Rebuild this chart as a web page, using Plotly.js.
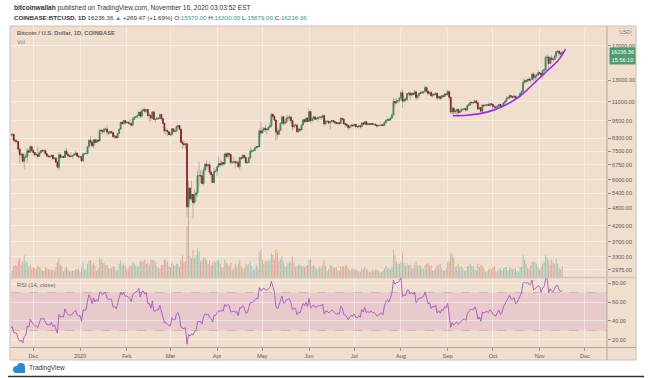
<!DOCTYPE html>
<html><head><meta charset="utf-8">
<script src="https://cdn.plot.ly/plotly-3.0.1.min.js"></script>
<style>html,body{margin:0;padding:0;background:#fff;}#chart{width:652px;height:378px;}</style>
</head><body><div id="chart"></div>
<script>
// Daily candles, COINBASE BTCUSD, from 2019-11-01 to 2020-11-16 (one entry per day)
const startDay = [2019, 10, 1];
const opens = [
9150,9260,9310,9200,9410,9310,9350,9200,8770,8810,9040,8720,8800,8760,8640,8460,8500,8550,8170,8120,8080,7620,7290,7330,6930,7150,7180,7520,7440,7760,
7550,7420,7310,7300,7200,7400,7540,7510,7530,7350,7220,7200,7190,7260,7070,7110,6880,6620,7290,7150,7190,7140,7510,7320,7250,7200,7200,7250,7320,7390,7220,
7170,7180,6950,7340,7350,7360,7760,8160,8040,7820,8190,8020,8180,8110,8820,8810,8720,8900,8910,8700,8630,8730,8660,8390,8430,8330,8600,8900,9390,9290,9510,
9350,9380,9340,9290,9180,9620,9760,9800,9900,10160,9850,10270,10360,10240,10370,9900,9930,9700,10180,9600,9610,9690,9670,9970,9660,9310,8790,8810,8710,
8530,8530,8920,8760,8760,9070,9150,8900,8040,7940,7890,7940,4860,5620,5170,5360,5030,5330,5420,6190,6200,6190,5830,6480,6770,6680,6740,6370,6250,5880,6400,
6420,6640,6810,6740,6870,6780,7340,7200,7370,7300,6870,6890,6910,6860,6880,6640,7120,7100,7260,7140,6850,6860,7130,7490,7510,7540,7700,7770,7760,8780,
8630,8830,8970,8900,8880,9030,9150,9990,9810,9540,8720,8560,8820,9310,9790,9320,9380,9670,9730,9780,9510,9060,9170,9180,8720,8900,8840,9200,9570,9430,9700,
9450,10200,9520,9670,9790,9620,9670,9750,9780,9770,9880,9270,9470,9470,9340,9430,9520,9460,9390,9300,9360,9290,9680,9620,9290,9250,9160,9010,9120,9190,
9140,9230,9090,9060,9130,9070,9340,9250,9430,9230,9280,9230,9300,9240,9250,9190,9130,9150,9170,9210,9160,9390,9530,9610,9550,9710,9940,11030,10910,11100,11110,
11350,11810,11070,11230,11190,11740,11770,11600,11760,11680,11890,11390,11570,11780,11770,11860,11910,12300,11970,11740,11860,11520,11680,11650,11770,11340,11470,11330,11540,11480,11710,
11660,11920,11400,10170,10470,10170,10260,10380,10130,10230,10350,10400,10440,10330,10680,10790,10950,10940,10940,11090,10920,10420,10530,10240,10740,10690,10720,10770,10700,10840,
10780,10620,10570,10550,10670,10790,10600,10670,10920,11060,11300,11380,11550,11430,11430,11500,11320,11370,11510,11750,11920,12820,12980,12930,13120,13040,13070,13650,13280,13460,13560,
13800,13760,13560,14030,14150,15590,15590,14840,15490,15330,15310,15700,16290,16330,16070,15970];
const highs = [
9270,9380,9370,9580,9470,9440,9380,9230,8880,9120,9080,8890,8820,8800,8770,8530,8650,8560,8180,8230,8120,7720,7370,7350,7370,7340,7660,7630,7870,7820,
7570,7430,7420,7760,7490,7560,7630,7570,7640,7400,7280,7250,7300,7280,7160,7140,6940,7440,7380,7220,7190,7520,7700,7440,7270,7440,7270,7380,7530,7410,7310,
7250,7210,7410,7390,7500,7800,8210,8460,8050,8200,8290,8190,8200,8880,8900,8850,9000,9000,9190,8720,8770,8800,8670,8520,8450,8610,8980,9400,9440,9570,9530,
9460,9480,9620,9330,9760,9830,9880,9950,10180,10190,10320,10460,10520,10400,10400,10060,9980,10250,10200,9650,9780,9700,10020,10000,9680,9330,8990,8900,8780,
8750,8940,8930,8850,9160,9180,9190,8900,8180,8150,7990,7960,5960,5670,5950,5370,5560,5450,6420,6900,6460,6420,6610,6840,6980,6780,6880,6370,6260,6600,6530,
6690,7200,7040,6950,6880,7370,7470,7430,7370,7300,6950,7190,6910,6990,6930,7190,7160,7310,7260,7210,6950,7150,7760,7620,7610,7710,7790,7800,8960,9460,
9060,9020,9190,8960,9100,9380,10060,10000,9920,9580,9000,8970,9400,9930,9850,9600,9880,9950,9900,9840,9560,9270,9310,9300,8970,9010,9230,9600,9610,9740,9700,
10430,10230,9690,9880,9860,9740,9800,9800,9880,9990,9950,9580,9490,9480,9500,9580,9550,9480,9400,9400,9440,9780,9690,9670,9330,9300,9200,9190,9230,9200,
9300,9270,9120,9190,9130,9360,9370,9460,9440,9300,9290,9340,9340,9280,9270,9220,9190,9200,9240,9220,9420,9540,9650,9640,9730,10080,11400,11240,11350,11180,11450,
12000,12120,11490,11420,11790,11900,11930,11800,11810,12080,12060,11620,11800,12000,11990,11940,12480,12400,12010,11880,11880,11690,11720,11820,11770,11540,11580,11560,11580,11720,11780,
12090,11950,11470,10630,10570,10350,10400,10440,10350,10510,10420,10480,10450,10780,10940,11100,11040,11050,11180,11090,10990,10580,10540,10780,10770,10790,10800,10960,10860,10850,
10930,10640,10600,10690,10800,10800,10690,10960,11110,11500,11440,11720,11560,11560,11640,11540,11400,11520,11820,12030,13200,13190,13030,13170,13340,13250,13790,13860,13640,13680,14100,
13900,13830,14070,14250,15750,15980,15770,15660,15850,15470,15980,16350,16490,16350,16140,16300];
const lows = [
9070,9200,9110,9090,9180,9260,9080,8690,8740,8780,8630,8640,8680,8570,8370,8430,8420,8070,7960,8030,7460,6800,7100,6880,6520,7080,6860,7380,7410,7450,
7230,7170,7230,7080,7170,7360,7480,7410,7300,7150,7150,7080,7180,7030,7020,6840,6570,6430,7060,7110,7110,7130,7270,7160,7130,7170,7070,7240,7290,7170,7130,
7150,6910,6870,7270,7320,7350,7720,7880,7760,7670,7990,8000,8060,8100,8570,8600,8680,8800,8470,8520,8570,8610,8300,8230,8260,8290,8580,8880,9250,9210,9220,
9320,9210,9230,9080,9160,9540,9720,9680,9880,9710,9730,10240,10080,10130,9760,9470,9450,9610,9560,9400,9570,9580,9660,9500,9260,8600,8520,8440,8510,
8410,8510,8660,8670,8750,9000,8860,8000,7630,7730,7600,4500,3860,5090,5100,4450,4950,5070,5260,5700,5850,5790,5730,6400,6480,6550,6260,5880,5870,5860,6340,
6160,6590,6640,6680,6670,6770,7100,7150,7130,6760,6780,6810,6560,6780,6620,6470,7010,7080,7060,6830,6800,6840,7030,7400,7450,7500,7630,7680,7740,8400,
8620,8760,8700,8560,8780,8940,9020,9710,9500,8130,8230,8540,8790,9280,9140,9230,9320,9480,9480,9300,8820,8950,9100,8700,8630,8720,8820,9110,9340,9340,9400,
9420,9280,9380,9460,9580,9530,9400,9650,9570,9700,9100,9230,9350,9250,8900,9380,9260,9300,9220,9190,9260,9280,9560,9200,9000,9040,8830,8940,9020,9080,
9090,8940,9040,9050,8930,9060,9210,9240,9170,9120,9200,9160,9200,9120,9150,9010,9090,9120,9110,9130,9150,9280,9460,9470,9540,9650,9920,10560,10840,10850,10980,
11220,10500,10930,11000,11090,11560,11150,11530,11570,11680,11150,11160,11300,11690,11700,11690,11820,11820,11580,11670,11500,11380,11520,11590,11150,11260,11150,11300,11420,11450,11540,
11530,11170,10020,9900,9880,10000,9880,9860,10100,10210,10200,10360,10210,10260,10640,10670,10740,10820,10890,10790,10300,10350,10140,10200,10560,10650,10620,10660,10650,10680,
10440,10380,10500,10520,10620,10530,10570,10540,10840,11050,11260,11230,11300,11290,11270,11220,11290,11360,11410,11690,11900,12700,12730,12910,12910,12800,13060,12930,12980,13130,13430,
13620,13210,13300,13520,14090,15200,14340,14720,14810,15090,15290,15440,15960,15710,15790,15879];
const closes = [
9260,9310,9200,9410,9310,9350,9200,8770,8810,9040,8720,8800,8760,8640,8460,8500,8550,8170,8120,8080,7620,7290,7330,6930,7150,7180,7520,7440,7760,7550,
7420,7310,7300,7200,7400,7540,7510,7530,7350,7220,7200,7190,7260,7070,7110,6880,6620,7290,7150,7190,7140,7510,7320,7250,7200,7200,7250,7320,7390,7220,7170,
7180,6950,7340,7350,7360,7760,8160,8040,7820,8190,8020,8180,8110,8820,8810,8720,8900,8910,8700,8630,8730,8660,8390,8430,8330,8600,8900,9390,9290,9510,9350,
9380,9340,9290,9180,9620,9760,9800,9900,10160,9850,10270,10360,10240,10370,9900,9930,9700,10180,9600,9610,9690,9670,9970,9660,9310,8790,8810,8710,8530,
8530,8920,8760,8760,9070,9150,8900,8040,7940,7890,7940,4860,5620,5170,5360,5030,5330,5420,6190,6200,6190,5830,6480,6770,6680,6740,6370,6250,5880,6400,6420,
6640,6810,6740,6870,6780,7340,7200,7370,7300,6870,6890,6910,6860,6880,6640,7120,7100,7260,7140,6850,6860,7130,7490,7510,7540,7700,7770,7760,8780,8630,
8830,8970,8900,8880,9030,9150,9990,9810,9540,8720,8560,8820,9310,9790,9320,9380,9670,9730,9780,9510,9060,9170,9180,8720,8900,8840,9200,9570,9430,9700,9450,
10200,9520,9670,9790,9620,9670,9750,9780,9770,9880,9270,9470,9470,9340,9430,9520,9460,9390,9300,9360,9290,9680,9620,9290,9250,9160,9010,9120,9190,9140,
9230,9090,9060,9130,9070,9340,9250,9430,9230,9280,9230,9300,9240,9250,9190,9130,9150,9170,9210,9160,9390,9530,9610,9550,9710,9940,11030,10910,11100,11110,11350,
11810,11070,11230,11190,11740,11770,11600,11760,11680,11890,11390,11570,11780,11770,11860,11910,12300,11970,11740,11860,11520,11680,11650,11770,11340,11470,11330,11540,11480,11710,11660,
11920,11400,10170,10470,10170,10260,10380,10130,10230,10350,10400,10440,10330,10680,10790,10950,10940,10940,11090,10920,10420,10530,10240,10740,10690,10720,10770,10700,10840,10780,
10620,10570,10550,10670,10790,10600,10670,10920,11060,11300,11380,11550,11430,11430,11500,11320,11370,11510,11750,11920,12820,12980,12930,13120,13040,13070,13650,13280,13460,13560,13800,
13760,13560,14030,14150,15590,15590,14840,15490,15330,15310,15700,16290,16330,16070,15970,16236.36];
// daily volume, thousand BTC
const volumes = [
9,8,7,9,10,9,10,14,8,8,10,9,9,9,10,6,6,10,11,10,15,17,11,14,20,14,13,9,11,8,
9,8,8,10,9,8,6,6,9,8,7,7,6,7,6,9,13,17,11,9,5,8,9,7,5,6,6,6,7,7,7,
5,9,13,7,7,12,15,15,11,13,10,6,8,17,16,13,13,11,11,8,8,8,10,9,6,7,12,15,11,12,10,
7,8,10,10,13,12,10,9,10,14,14,14,16,12,13,11,16,15,16,13,10,8,8,11,11,16,16,14,10,
9,13,11,10,12,12,9,15,20,14,14,46,40,19,17,24,17,20,26,23,14,15,18,17,15,12,15,11,13,15,13,
15,16,12,9,9,16,13,12,10,13,7,8,12,9,12,16,10,8,8,12,11,12,14,10,7,8,11,8,23,25,
16,12,14,15,14,16,22,20,16,25,22,14,16,19,14,9,10,13,14,13,18,13,9,10,11,11,10,10,9,10,11,
16,16,10,11,9,7,8,10,8,11,15,10,6,7,11,10,9,8,9,6,6,10,9,10,10,11,8,6,7,8,
7,7,6,5,5,8,7,9,7,7,4,5,7,6,7,7,6,4,4,6,8,10,8,8,7,9,25,20,14,12,12,
14,22,13,10,13,11,11,8,8,11,14,10,11,10,8,7,11,12,13,10,11,6,6,8,11,10,12,8,6,6,8,
14,14,22,20,18,9,10,12,9,10,8,6,6,10,10,12,10,10,7,6,12,9,11,10,8,5,5,7,8,7,
9,10,5,5,7,8,6,8,9,9,6,9,8,7,7,8,5,4,9,9,20,16,12,8,8,11,14,14,13,12,9,
7,9,12,14,20,18,15,11,16,13,12,17,12,8,7,10];

const priceTicks = [2975,3300,3700,4200,4800,5400,6000,6750,7500,8300,9500,11000,13000,17000];
const priceTickText = ['2975.00','3300.00','3700.00','4200.00','4800.00','5400.00','6000.00','6750.00','7500.00','8300.00','9500.00','11000.00','13000.00','17000.00'];
const rsiTicks = [20,40,60,80];
const rsiTickText = ['20.00','40.00','60.00','80.00'];
const monthTicks = ['2019-12-01','2020-01-01','2020-02-01','2020-03-01','2020-04-01','2020-05-01','2020-06-01','2020-07-01','2020-08-01','2020-09-01','2020-10-01','2020-11-01','2020-12-01'];
const monthLabels = ['Dec','2020','Feb','Mar','Apr','May','Jun','Jul','Aug','Sep','Oct','Nov','Dec'];
// hand-drawn purple arc (drawing on the chart)
const curveDates = ['2020-09-04 12:00','2020-09-13 14:00','2020-09-22 10:00','2020-10-01 08:00','2020-10-10 02:00','2020-10-19','2020-10-27 18:00','2020-11-04 16:00','2020-11-13 12:00','2020-11-18 05:00'];
const curvePrices = [9880,9920,10040,10320,10780,11500,12650,13800,15250,16600];

// ---------- derived for drawing ----------
const dates = closes.map((_, i) => {
  const d = new Date(Date.UTC(startDay[0], startDay[1], startDay[2]));
  d.setUTCDate(d.getUTCDate() + i);
  return d.toISOString().slice(0, 10);
});
function rsiSeries(c, n) {
  const out = c.map(() => null);
  let g = 0, l = 0;
  for (let i = 1; i <= n; i++) { const d = c[i] - c[i-1]; if (d > 0) g += d; else l -= d; }
  g /= n; l /= n;
  out[n] = l === 0 ? 100 : 100 - 100 / (1 + g / l);
  for (let i = n + 1; i < c.length; i++) {
    const d = c[i] - c[i-1];
    g = (g * (n - 1) + Math.max(d, 0)) / n;
    l = (l * (n - 1) + Math.max(-d, 0)) / n;
    out[i] = l === 0 ? 100 : 100 - 100 / (1 + g / l);
  }
  return out;
}
const rsi = rsiSeries(closes, 14);
const bodyHigh = opens.map((o, i) => Math.max(o, closes[i]));
const bodyLow = opens.map((o, i) => Math.min(o, closes[i]));
const volColors = opens.map((o, i) => closes[i] >= o ? '#9ccab5' : '#eea196');
const lastClose = closes[closes.length - 1];

const W = 652, H = 378;
const px = v => v / W, py = v => 1 - v / H;
const BG = '#f0dece';
const GRID = 'rgba(255,255,255,0.45)';
const TXT = '#5a5a5a';
const FONT = 'Liberation Sans, Arial, sans-serif';
const UPF = '#4f9b6f', UPL = '#3d8a5d', DNF = '#a33232', DNL = '#8c2323';

const traces = [
  { type: 'bar', x: dates, y: volumes, xaxis: 'x', yaxis: 'y2', marker: { color: volColors, line: { width: 0 } }, hoverinfo: 'skip' },
  { type: 'candlestick', x: dates, open: opens, high: highs, low: lows, close: closes, xaxis: 'x', yaxis: 'y',
    increasing: { line: { color: '#a9a29b', width: 0.8 }, fillcolor: UPF },
    decreasing: { line: { color: '#a9a29b', width: 0.8 }, fillcolor: DNF }, hoverinfo: 'skip' },
  { type: 'candlestick', x: dates, open: opens, high: bodyHigh, low: bodyLow, close: closes, xaxis: 'x', yaxis: 'y',
    increasing: { line: { color: UPL, width: 0.9 }, fillcolor: UPF },
    decreasing: { line: { color: DNL, width: 0.9 }, fillcolor: DNF }, hoverinfo: 'skip' },
  { type: 'scatter', mode: 'lines', x: curveDates, y: curvePrices, xaxis: 'x', yaxis: 'y',
    line: { color: '#9a2cf0', width: 1.6, shape: 'spline', smoothing: 1 }, hoverinfo: 'skip' },
  { type: 'scatter', mode: 'lines', x: dates, y: rsi, xaxis: 'x2', yaxis: 'y3',
    line: { color: '#9a48c0', width: 0.8 }, hoverinfo: 'skip' }
];

const xr = ['2019-11-16 05:00', '2020-12-15 17:00'];
const layout = {
  width: W, height: H, margin: { l: 0, r: 0, t: 0, b: 0 },
  paper_bgcolor: '#ffffff', plot_bgcolor: 'rgba(0,0,0,0)',
  showlegend: false, hovermode: false, bargap: 0.3,
  font: { family: FONT, color: TXT },
  xaxis: { domain: [px(11), px(607)], type: 'date', range: xr, anchor: 'y', showticklabels: false, ticks: '',
    tickmode: 'array', tickvals: monthTicks, showgrid: true, gridcolor: GRID, gridwidth: 1, zeroline: false, showline: false,
    rangeslider: { visible: false }, fixedrange: true },
  xaxis2: { domain: [px(11), px(607)], type: 'date', matches: 'x', anchor: 'y3', tickmode: 'array', tickvals: monthTicks,
    ticktext: monthLabels, ticks: 'outside', ticklen: 3, tickcolor: '#9a9a9a', tickfont: { size: 5.5, color: TXT, family: FONT },
    showgrid: true, gridcolor: GRID, zeroline: false, showline: false, fixedrange: true },
  yaxis: { domain: [py(277), py(26)], type: 'log', range: [3.4497, 4.2980], side: 'right', anchor: 'x',
    tickmode: 'array', tickvals: priceTicks, ticktext: priceTickText, ticks: 'outside', ticklen: 3, tickcolor: '#8a8a8a',
    tickfont: { size: 5.5, color: TXT, family: FONT }, showgrid: true, gridcolor: GRID, zeroline: false, showline: false, fixedrange: true },
  yaxis2: { overlaying: 'y', range: [0, 228], visible: false, anchor: 'x', fixedrange: true },
  yaxis3: { domain: [py(347), py(278)], range: [12.6, 85.3], side: 'right', anchor: 'x2',
    tickmode: 'array', tickvals: rsiTicks, ticktext: rsiTickText, ticks: 'outside', ticklen: 3, tickcolor: '#8a8a8a',
    tickfont: { size: 5.5, color: TXT, family: FONT }, showgrid: true, gridcolor: GRID, zeroline: false, showline: false, fixedrange: true },
  shapes: [
    { type: 'rect', xref: 'paper', yref: 'paper', x0: px(10), x1: px(636), y0: py(360), y1: py(26), fillcolor: BG, line: { color: '#cdc1b6', width: 1 }, layer: 'below' },
    { type: 'rect', xref: 'paper', yref: 'y3', x0: px(11), x1: px(607), y0: 30, y1: 70, fillcolor: 'rgba(200,120,200,0.2)', line: { width: 0 }, layer: 'below' },
    { type: 'line', xref: 'paper', yref: 'y3', x0: px(11), x1: px(607), y0: 70, y1: 70, line: { color: 'rgba(150,120,140,0.45)', width: 0.7, dash: 'dash' } },
    { type: 'line', xref: 'paper', yref: 'y3', x0: px(11), x1: px(607), y0: 30, y1: 30, line: { color: 'rgba(150,120,140,0.45)', width: 0.7, dash: 'dash' } },
    { type: 'line', xref: 'paper', yref: 'y', x0: px(11), x1: px(607), y0: Math.log10(lastClose), y1: Math.log10(lastClose), line: { color: 'rgba(80,140,100,0.75)', width: 0.8, dash: 'dot' } },
    { type: 'line', xref: 'paper', yref: 'paper', x0: px(607), x1: px(607), y0: py(360), y1: py(26), line: { color: '#b3a79c', width: 1 } },
    { type: 'line', xref: 'paper', yref: 'paper', x0: px(10), x1: px(636), y0: py(277.5), y1: py(277.5), line: { color: '#cfc3b8', width: 1.6 } },
    { type: 'line', xref: 'paper', yref: 'paper', x0: px(10), x1: px(636), y0: py(347.5), y1: py(347.5), line: { color: '#b3a79c', width: 1 } },
    { type: 'line', xref: 'paper', yref: 'paper', x0: px(8), x1: px(644), y0: py(376.5), y1: py(376.5), line: { color: '#333333', width: 1.6 } },
    { type: 'circle', xref: 'paper', yref: 'paper', x0: px(13), x1: px(20), y0: py(373), y1: py(366), fillcolor: '#2b8ad8', line: { width: 0 } },
    { type: 'circle', xref: 'paper', yref: 'paper', x0: px(17), x1: px(25), y0: py(371), y1: py(363), fillcolor: '#2b8ad8', line: { width: 0 } },
    { type: 'rect', xref: 'paper', yref: 'paper', x0: px(15), x1: px(25), y0: py(373), y1: py(368), fillcolor: '#2b8ad8', line: { width: 0 } }
  ],
  annotations: [
    { xref: 'paper', yref: 'paper', x: px(12), y: py(8), xanchor: 'left', yanchor: 'middle', showarrow: false,
      text: '<b>bitcoinwallah</b> published on TradingView.com, November 16, 2020 03:03:52 EST', font: { size: 6.6, color: '#333', family: FONT } },
    { xref: 'paper', yref: 'paper', x: px(12), y: py(17), xanchor: 'left', yanchor: 'middle', showarrow: false,
      text: '<b>COINBASE:BTCUSD, 1D</b> 16236.36 <span style="color:#2e9e7e">▲</span> +269.47 (+1.69%) O:<span style="color:#2e9e7e">15970.00</span> H:<span style="color:#2e9e7e">16300.00</span> L:<span style="color:#2e9e7e">15879.00</span> C:<span style="color:#2e9e7e">16236.36</span>',
      font: { size: 6.2, color: '#333', family: FONT } },
    { xref: 'paper', yref: 'paper', x: px(15), y: py(33), xanchor: 'left', yanchor: 'middle', showarrow: false,
      text: '<b>Bitcoin / U.S. Dollar, 1D, COINBASE</b>', font: { size: 5.8, color: '#666', family: FONT } },
    { xref: 'paper', yref: 'paper', x: px(15), y: py(42), xanchor: 'left', yanchor: 'middle', showarrow: false,
      text: 'Vol', font: { size: 5.8, color: '#888', family: FONT } },
    { xref: 'paper', yref: 'paper', x: px(15), y: py(285), xanchor: 'left', yanchor: 'middle', showarrow: false,
      text: 'RSI (14, close)', font: { size: 5.8, color: '#666', family: FONT } },
    { xref: 'paper', yref: 'y', x: px(609), y: Math.log10(lastClose), xanchor: 'left', yanchor: 'middle', showarrow: false,
      text: lastClose.toFixed(2), bgcolor: '#4f9b6f', width: 24, height: 7, borderpad: 0.5, font: { size: 5.5, color: '#ffffff', family: FONT } },
    { xref: 'paper', yref: 'y', x: px(609), y: Math.log10(lastClose), yshift: -8, xanchor: 'left', yanchor: 'middle', showarrow: false,
      text: '15:56:10', bgcolor: '#4f9b6f', width: 24, height: 7, borderpad: 0.5, font: { size: 5.5, color: '#ffffff', family: FONT } },
    { xref: 'paper', yref: 'paper', x: px(625), y: py(32), xanchor: 'center', yanchor: 'middle', showarrow: false,
      text: 'USD', bgcolor: '#f6ebe1', bordercolor: '#bdb3aa', borderwidth: 0.5, borderpad: 0.5, font: { size: 5, color: '#555', family: FONT } },
    { xref: 'paper', yref: 'paper', x: px(27), y: py(368), xanchor: 'left', yanchor: 'middle', showarrow: false,
      text: 'TradingView', font: { size: 6.5, color: '#333', family: FONT } }
  ]
};

Plotly.newPlot('chart', traces, layout, { staticPlot: true, displayModeBar: false });
</script>
</body></html>
